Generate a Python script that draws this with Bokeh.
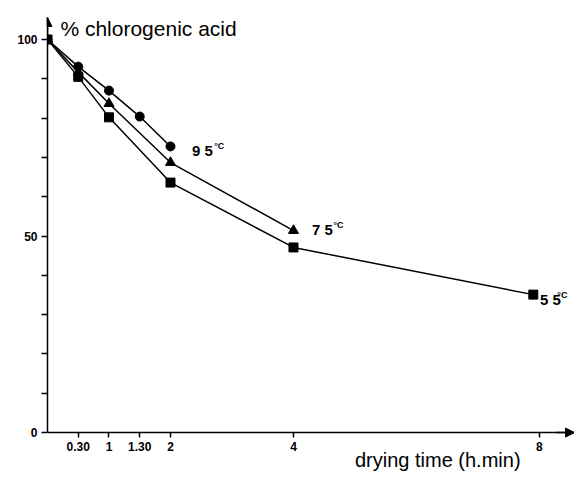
from bokeh.plotting import figure
from bokeh.models import Range1d, FixedTicker, Label, Arrow, NormalHead
from bokeh.embed import file_html
from bokeh.resources import INLINE

# --- data ---
t95 = [0, 0.5, 1, 1.5, 2]
c95 = [100, 93.1, 87.0, 80.4, 72.8]

t75 = [0, 0.5, 1, 2, 4]
c75 = [100, 91.7, 83.7, 68.7, 51.4]

t55 = [0, 0.5, 1, 2, 4, 7.9]
c55 = [100, 90.5, 80.2, 63.6, 47.1, 35.1]

x_ticks = [0.5, 1, 1.5, 2, 4, 8]
x_tick_labels = ["0.30", "1", "1.30", "2", "4", "8"]
y_major = [0, 50, 100]
y_minor = [10, 20, 30, 40, 60, 70, 80, 90]

FONT = "Liberation Sans"

X_END = 8.57
Y_END = 105.6
Y_START = -9.9

p = figure(width=574, height=471, output_backend="svg", toolbar_location=None,
           x_range=Range1d(0, X_END), y_range=Range1d(Y_START, Y_END),
           min_border_left=47, min_border_right=0, min_border_top=17,
           min_border_bottom=0)
p.outline_line_color = None
p.xgrid.visible = False
p.ygrid.visible = False
p.background_fill_color = "white"
p.border_fill_color = "white"

for ax in (p.xaxis[0], p.yaxis[0]):
    ax.axis_line_color = "black"
    ax.axis_line_width = 1.5
    ax.major_tick_line_color = "black"
    ax.minor_tick_line_color = "black"
    ax.major_tick_line_width = 1.5
    ax.minor_tick_line_width = 1.5
    ax.major_tick_in = 0
    ax.minor_tick_in = 0
    ax.major_label_text_font = FONT
    ax.major_label_text_font_style = "bold"
    ax.major_label_text_font_size = "12px"
    ax.major_label_text_color = "black"

xa = p.xaxis[0]
xa.fixed_location = 0
xa.bounds = (0, X_END)
xa.ticker = FixedTicker(ticks=x_ticks, minor_ticks=[])
xa.major_label_overrides = {t: s for t, s in zip(x_ticks, x_tick_labels)}
xa.major_tick_out = 5
xa.minor_tick_out = 0
xa.major_label_standoff = 4

ya = p.yaxis[0]
ya.bounds = (0, Y_END)
ya.ticker = FixedTicker(ticks=y_major, minor_ticks=y_minor)
ya.major_tick_out = 6
ya.minor_tick_out = 6
ya.major_label_standoff = 4

# axis arrows
p.add_layout(Arrow(end=NormalHead(size=9, fill_color="black", line_color="black"),
                   x_start=X_END - 0.3, y_start=0, x_end=X_END, y_end=0,
                   line_color="black", line_width=1.5))
p.add_layout(Arrow(end=NormalHead(size=9, fill_color="black", line_color="black"),
                   x_start=0, y_start=Y_END - 4, x_end=0, y_end=Y_END,
                   line_color="black", line_width=1.5))

# series
p.line(t55, c55, line_color="black", line_width=1.5)
p.scatter(t55, c55, marker="square", size=9, color="black")
p.line(t75, c75, line_color="black", line_width=1.5)
p.scatter(t75, c75, marker="triangle", size=10, color="black")
p.line(t95, c95, line_color="black", line_width=1.5)
p.scatter(t95, c95, marker="circle", size=9, color="black")

# series labels
def temp_label(x, y, num, xs):
    p.add_layout(Label(x=x, y=y, text=num, text_font=FONT, text_font_size="15px",
                       text_font_style="bold", text_color="black",
                       text_align="left", text_baseline="top"))
    p.add_layout(Label(x=xs, y=y + 0.3, text="°C", text_font=FONT, text_font_size="9px",
                       text_font_style="bold", text_color="black",
                       text_align="left", text_baseline="top"))

temp_label(2.35, 73.8, "9 5", 2.71)
temp_label(4.30, 53.9, "7 5", 4.65)
temp_label(8.01, 35.9, "5 5", 8.29)

# axis titles
p.add_layout(Label(x=0.21, y=102.8, text="% chlorogenic acid", text_font=FONT,
                   text_font_size="21px", text_color="black",
                   text_align="left", text_baseline="alphabetic"))
p.add_layout(Label(x=5.0, y=-7.1, text="drying time (h.min)", text_font=FONT,
                   text_font_size="20px", text_color="black",
                   text_align="left", text_baseline="middle"))

open("out.html", "w").write(file_html(p, INLINE))
